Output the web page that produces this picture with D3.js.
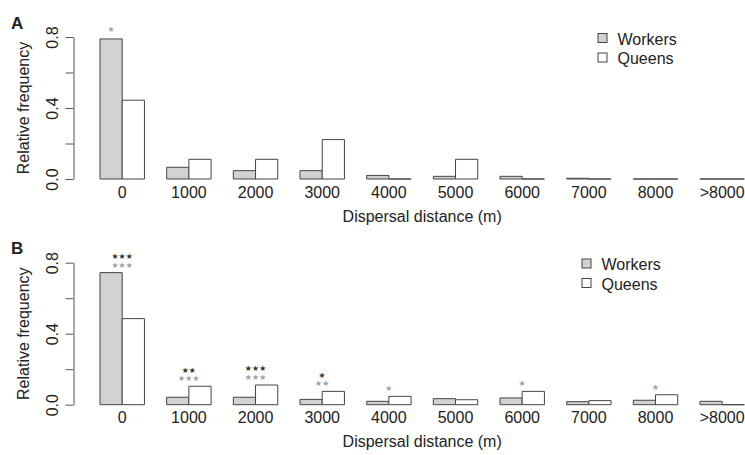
<!DOCTYPE html>
<html>
<head>
<meta charset="utf-8">
<script src="https://cdn.jsdelivr.net/npm/d3@7"></script>
<style>
  html, body { margin: 0; padding: 0; background: #fff; }
  svg { display: block; }
  text { font-family: "Liberation Sans", Arial, Helvetica, sans-serif; fill: #222; }
  text.sig { font-family: "DejaVu Sans", sans-serif; }
</style>
</head>
<body>
<svg id="chart" width="745" height="455"></svg>
<script>
// Distance classes (m)
const categories = ["0", "1000", "2000", "3000", "4000", "5000", "6000", "7000", "8000", ">8000"];
const seriesNames = ["Workers", "Queens"];

// Panel A: relative frequencies
const workersA = [0.789, 0.066, 0.047, 0.047, 0.020, 0.015, 0.015, 0.004, 0, 0];
const queensA  = [0.444, 0.111, 0.111, 0.222, 0, 0.111, 0, 0, 0, 0];

// Panel B: relative frequencies
const workersB = [0.744, 0.042, 0.042, 0.030, 0.019, 0.034, 0.038, 0.017, 0.025, 0.019];
const queensB  = [0.485, 0.104, 0.111, 0.075, 0.047, 0.028, 0.075, 0.023, 0.056, 0];

// Significance marks per distance class (number of stars; upper row dark, lower row grey)
const sigCatsA = ["0"];
const sigDarkA = [0];
const sigGreyA = [1];

const sigCatsB = ["0", "1000", "2000", "3000", "4000", "6000", "8000"];
const sigDarkB = [3, 2, 3, 1, 0, 0, 0];
const sigGreyB = [3, 3, 3, 2, 1, 1, 1];

// Axis ticks
const yTicks = [0, 0.2, 0.4, 0.6, 0.8];
const yTickLabels = ["0.0", "", "0.4", "", "0.8"];

const svg = d3.select("#chart");

const x = d3.scaleBand()
  .domain(categories)
  .range([100, 744.4])
  .paddingInner(1 / 3)
  .paddingOuter(0);

const xInner = d3.scaleBand()
  .domain(seriesNames)
  .range([0, x.bandwidth()]);

const fills = { Workers: "#d2d2d2", Queens: "#ffffff" };

const panels = [
  { label: "A", top: 0, yBottom: 179, yTop: 37, workers: workersA, queens: queensA,
    sigCats: sigCatsA, sigDark: sigDarkA, sigGrey: sigGreyA, starOver: "Workers",
    legendX: 598, legendY: 33.5 },
  { label: "B", top: 225.7, yBottom: 404.7, yTop: 262.7, workers: workersB, queens: queensB,
    sigCats: sigCatsB, sigDark: sigDarkB, sigGrey: sigGreyB, starOver: null,
    legendX: 582, legendY: 259 }
];

// Bar outline as a path so that zero-height bars still draw as a line
function barPath(x0, w, yBase, yTopPx) {
  return `M${x0},${yBase}V${yTopPx}H${x0 + w}V${yBase}Z`;
}

panels.forEach(p => {
  const g = svg.append("g");
  const y = d3.scaleLinear().domain([0, 0.8]).range([p.yBottom, p.yTop]);

  // panel letter
  g.append("text")
    .attr("x", 11).attr("y", p.top + 28.5)
    .attr("font-size", 17).attr("font-weight", "bold")
    .text(p.label);

  // y axis
  const yAxis = d3.axisLeft(y)
    .tickValues(yTicks)
    .tickFormat((d, i) => yTickLabels[i])
    .tickSizeOuter(0)
    .tickSizeInner(8)
    .tickPadding(0);
  const ag = g.append("g").attr("transform", "translate(73.5,0)").call(yAxis);
  ag.select(".domain").attr("stroke", "#555");
  ag.selectAll(".tick line").attr("stroke", "#555");
  ag.selectAll(".tick text")
    .attr("font-size", 16)
    .attr("fill", "#222")
    .attr("text-anchor", "middle")
    .attr("dy", 0)
    .attr("x", 0)
    .attr("transform", "translate(-16,0) rotate(-90)");

  // y axis title
  g.append("text")
    .attr("transform", `translate(29,${(p.yBottom + p.yTop) / 2}) rotate(-90)`)
    .attr("text-anchor", "middle")
    .attr("font-size", 16)
    .text("Relative frequency");

  // bars
  const rows = categories.map((c, i) => ({ cat: c, Workers: p.workers[i], Queens: p.queens[i] }));
  const grp = g.selectAll("g.grp").data(rows).join("g")
    .attr("class", "grp")
    .attr("transform", d => `translate(${x(d.cat)},0)`);
  grp.selectAll("path")
    .data(d => seriesNames.map(s => ({ s, v: d[s] })))
    .join("path")
    .attr("d", d => barPath(xInner(d.s), xInner.bandwidth(), y(0), y(d.v)))
    .attr("fill", d => fills[d.s])
    .attr("stroke", "#444")
    .attr("stroke-width", 1);

  // x tick labels
  g.selectAll("text.xt").data(categories).join("text")
    .attr("class", "xt")
    .attr("x", d => x(d) + x.bandwidth() / 2)
    .attr("y", p.yBottom + 18.5)
    .attr("text-anchor", "middle")
    .attr("font-size", 16)
    .text(d => d);

  // x axis title
  g.append("text")
    .attr("x", (x.range()[0] + x.range()[1]) / 2)
    .attr("y", p.yBottom + 42.5)
    .attr("text-anchor", "middle")
    .attr("font-size", 16)
    .text("Dispersal distance (m)");

  // significance marks (small stars above each tested class)
  p.sigCats.forEach((c, i) => {
    const idx = categories.indexOf(c);
    const top = Math.max(p.workers[idx], p.queens[idx]);
    const cx = p.starOver
      ? x(c) + xInner(p.starOver) + xInner.bandwidth() / 2
      : x(c) + x.bandwidth() / 2;
    const greyCenter = y(top) - (p.starOver ? 9.5 : 8);
    const rowsOfStars = [
      { n: p.sigGrey[i], cy: greyCenter, color: "#a0a0a0" },
      { n: p.sigDark[i], cy: greyCenter - 8.5, color: "#333" }
    ];
    rowsOfStars.filter(r => r.n > 0).forEach(r => {
      g.append("text")
        .attr("class", "sig")
        .attr("x", cx).attr("y", r.cy + 2.9)
        .attr("text-anchor", "middle")
        .attr("font-size", 7.8)
        .attr("letter-spacing", 0.2)
        .style("fill", r.color)
        .text("★".repeat(r.n));
    });
  });

  // legend
  seriesNames.forEach((s, i) => {
    const ly = p.legendY + i * 19.5;
    g.append("rect")
      .attr("x", p.legendX).attr("y", ly)
      .attr("width", 9).attr("height", 9)
      .attr("fill", fills[s]).attr("stroke", "#444");
    g.append("text")
      .attr("x", p.legendX + 19.5).attr("y", ly + 11)
      .attr("font-size", 16)
      .text(s);
  });
});
</script>
</body>
</html>
